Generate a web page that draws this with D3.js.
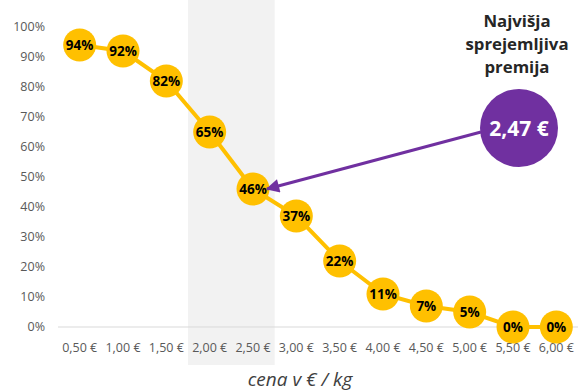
<!DOCTYPE html>
<html>
<head>
<meta charset="utf-8">
<script src="https://cdn.jsdelivr.net/npm/d3@7"></script>
<style>
  body { margin: 0; background: #fff; }
  svg { display: block; font-family: "Open Sans", "Noto Sans", sans-serif; }
</style>
</head>
<body>
<div id="chart"></div>
<script>
// data
var categories = ["0,50 €", "1,00 €", "1,50 €", "2,00 €", "2,50 €", "3,00 €",
                  "3,50 €", "4,00 €", "4,50 €", "5,00 €", "5,50 €", "6,00 €"];
var shares = [94, 92, 82, 65, 46, 37, 22, 11, 7, 5, 0, 0];
var yTicks = [0, 10, 20, 30, 40, 50, 60, 70, 80, 90, 100];
var highlight = ["2,00 €", "2,50 €"];
var premiumLabel = "2,47 €";
var premiumTitle = ["Najvišja", "sprejemljiva", "premija"];

var width = 578, height = 391;
var margin = {top: 27, right: 0, bottom: 64, left: 58};

var svg = d3.select("#chart").append("svg")
    .attr("width", width)
    .attr("height", height);

var x = d3.scaleBand()
    .domain(categories)
    .range([margin.left, width - margin.right]);

var y = d3.scaleLinear()
    .domain([0, 100])
    .range([height - margin.bottom, margin.top]);

// grey band behind 2,00 - 2,50
svg.append("rect")
    .attr("x", x(highlight[0]))
    .attr("y", 0)
    .attr("width", x(highlight[1]) + x.bandwidth() - x(highlight[0]))
    .attr("height", 365)
    .attr("fill", "#f2f2f2");

// y axis labels
svg.selectAll(".ylab")
    .data(yTicks)
    .enter().append("text")
    .attr("x", 45)
    .attr("y", function(d) { return y(d); })
    .attr("dy", "0.35em")
    .attr("text-anchor", "end")
    .attr("fill", "#595959")
    .style("font-size", "12.5px")
    .text(function(d) { return d + "%"; });

// baseline
svg.append("line")
    .attr("x1", margin.left).attr("x2", width)
    .attr("y1", y(0)).attr("y2", y(0))
    .attr("stroke", "#d9d9d9")
    .attr("stroke-width", 1);

// x labels
svg.selectAll(".xlab")
    .data(categories)
    .enter().append("text")
    .attr("x", function(d) { return x(d) + x.bandwidth() / 2; })
    .attr("y", y(0) + 25)
    .attr("text-anchor", "middle")
    .attr("fill", "#595959")
    .style("font-size", "12.5px")
    .text(function(d) { return d; });

// x axis title
svg.append("text")
    .attr("x", 300)
    .attr("y", 386)
    .attr("text-anchor", "middle")
    .attr("fill", "#404040")
    .style("font-size", "19px")
    .style("font-style", "italic")
    .text("cena v € / kg");

var cx = function(d, i) { return x(categories[i]) + x.bandwidth() / 2; };

// line
var line = d3.line()
    .x(function(d, i) { return cx(d, i); })
    .y(function(d) { return y(d); });

svg.append("path")
    .datum(shares)
    .attr("d", line)
    .attr("fill", "none")
    .attr("stroke", "#ffc000")
    .attr("stroke-width", 4);

// markers
svg.selectAll(".dot")
    .data(shares)
    .enter().append("circle")
    .attr("cx", cx)
    .attr("cy", function(d) { return y(d); })
    .attr("r", 16.5)
    .attr("fill", "#ffc000");

svg.selectAll(".dlab")
    .data(shares)
    .enter().append("text")
    .attr("x", cx)
    .attr("y", function(d) { return y(d); })
    .attr("dy", "0.36em")
    .attr("text-anchor", "middle")
    .attr("fill", "#000")
    .style("font-size", "13.5px")
    .style("font-weight", "bold")
    .text(function(d) { return d + "%"; });

// annotation
var bubble = {x: 519, y: 128, r: 39};

svg.append("defs").append("marker")
    .attr("id", "arrow")
    .attr("viewBox", "0 0 10 10")
    .attr("refX", 9).attr("refY", 5)
    .attr("markerWidth", 5).attr("markerHeight", 4.5)
    .attr("orient", "auto")
    .append("path")
    .attr("d", "M0,0 L10,5 L0,10 z")
    .attr("fill", "#7030a0");

var tipI = categories.indexOf("2,50 €");
svg.append("line")
    .attr("x1", bubble.x - bubble.r + 1)
    .attr("y1", bubble.y + 4)
    .attr("x2", cx(null, tipI) + 14)
    .attr("y2", y(shares[tipI]) + 0)
    .attr("stroke", "#7030a0")
    .attr("stroke-width", 3)
    .attr("marker-end", "url(#arrow)");

svg.append("circle")
    .attr("cx", bubble.x)
    .attr("cy", bubble.y)
    .attr("r", bubble.r)
    .attr("fill", "#7030a0");

svg.append("text")
    .attr("x", bubble.x)
    .attr("y", bubble.y)
    .attr("dy", "0.36em")
    .attr("text-anchor", "middle")
    .attr("fill", "#fff")
    .style("font-size", "21px")
    .style("font-weight", "bold")
    .text(premiumLabel);

svg.selectAll(".ptitle")
    .data(premiumTitle)
    .enter().append("text")
    .attr("x", 517)
    .attr("y", function(d, i) { return 27 + i * 23; })
    .attr("text-anchor", "middle")
    .attr("fill", "#262626")
    .style("font-size", "16.8px")
    .style("font-weight", "bold")
    .text(function(d) { return d; });
</script>
</body>
</html>
